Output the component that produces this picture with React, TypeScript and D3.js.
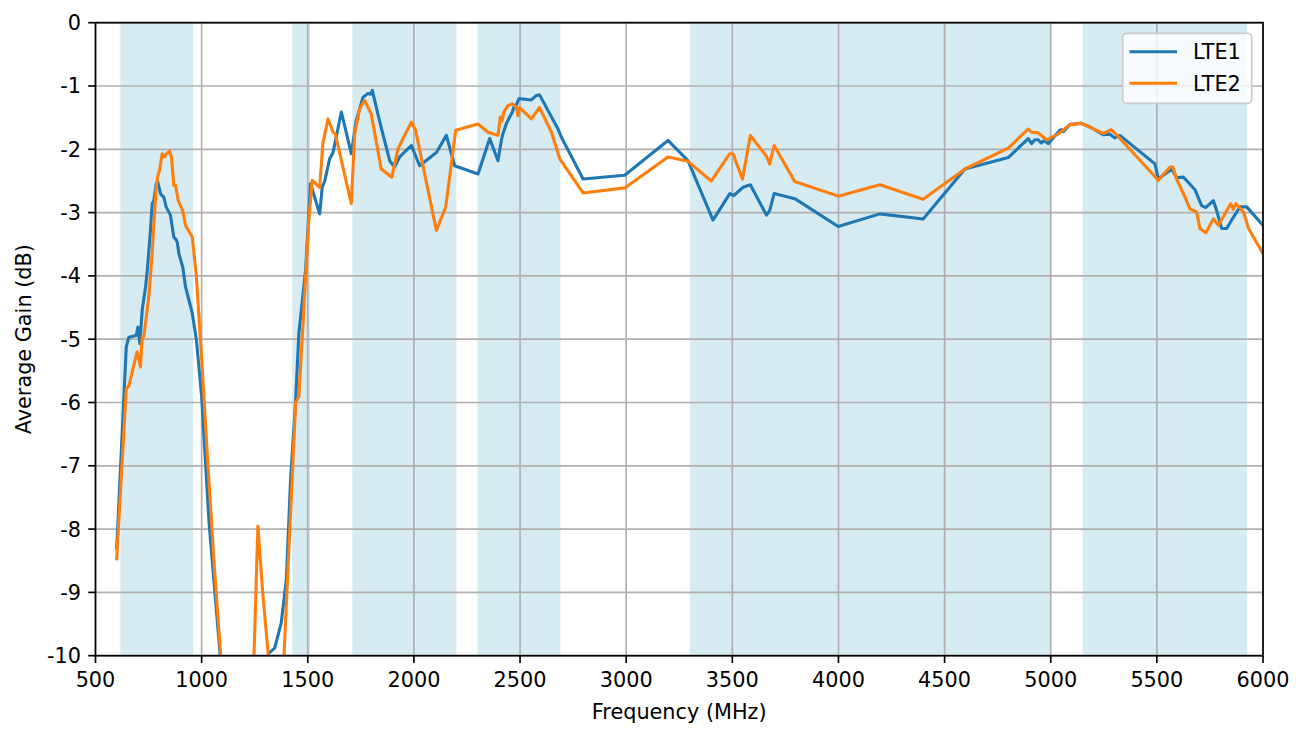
import React from "react";
import * as d3 from "d3";

const lte1Freq = [600, 645, 657, 692, 700, 709, 720, 736, 744, 759, 767, 775, 786, 794, 806, 822, 833, 853, 869, 878, 885, 893, 911, 924, 956, 975, 1000, 1035, 1090, 1150, 1250, 1300, 1317, 1344, 1375, 1399, 1419, 1443, 1458, 1490, 1513, 1556, 1568, 1580, 1603, 1619, 1658, 1705, 1728, 1760, 1783, 1795, 1804, 1838, 1886, 1909, 1933, 1988, 2027, 2106, 2153, 2192, 2302, 2357, 2396, 2412, 2419, 2435, 2451, 2464, 2470, 2480, 2495, 2553, 2577, 2592, 2640, 2679, 2695, 2797, 2993, 3197, 3291, 3409, 3488, 3507, 3551, 3585, 3661, 3676, 3697, 3794, 3999, 4195, 4399, 4596, 4800, 4894, 4910, 4925, 4941, 4955, 4970, 4988, 5043, 5051, 5060, 5090, 5137, 5145, 5192, 5247, 5278, 5302, 5326, 5491, 5507, 5570, 5593, 5625, 5680, 5711, 5730, 5766, 5780, 5805, 5829, 5852, 5892, 5923, 6000];
const lte1Gain = [-8.3, -5.12, -4.97, -4.94, -4.81, -5.07, -4.54, -4.17, -3.91, -3.28, -2.86, -2.81, -2.54, -2.52, -2.7, -2.76, -2.91, -3.04, -3.39, -3.42, -3.47, -3.65, -3.86, -4.17, -4.59, -5.0, -5.9, -7.9, -10.1, -11.5, -11.5, -10.2, -9.96, -9.88, -9.48, -8.8, -7.22, -5.96, -4.91, -3.9, -2.54, -3.02, -2.6, -2.5, -2.15, -2.05, -1.41, -2.07, -1.55, -1.18, -1.12, -1.13, -1.07, -1.55, -2.18, -2.28, -2.12, -1.94, -2.26, -2.05, -1.78, -2.26, -2.39, -1.83, -2.18, -1.86, -1.76, -1.6, -1.49, -1.41, -1.34, -1.32, -1.2, -1.22, -1.15, -1.14, -1.44, -1.68, -1.81, -2.47, -2.41, -1.86, -2.18, -3.12, -2.7, -2.73, -2.6, -2.56, -3.04, -2.97, -2.7, -2.78, -3.22, -3.02, -3.1, -2.31, -2.13, -1.83, -1.91, -1.85, -1.85, -1.9, -1.86, -1.91, -1.7, -1.69, -1.72, -1.61, -1.59, -1.59, -1.66, -1.77, -1.76, -1.82, -1.78, -2.23, -2.47, -2.31, -2.45, -2.44, -2.64, -2.89, -2.92, -2.81, -2.95, -3.25, -3.25, -3.12, -2.91, -2.91, -3.2];

const lte2Freq = [600, 645, 657, 696, 704, 712, 720, 728, 751, 767, 775, 786, 794, 802, 814, 825, 835, 849, 858, 869, 877, 890, 911, 924, 956, 975, 1000, 1030, 1060, 1090, 1150, 1245, 1265, 1290, 1320, 1360, 1388, 1443, 1458, 1505, 1521, 1556, 1571, 1595, 1619, 1630, 1705, 1721, 1744, 1768, 1799, 1846, 1896, 1925, 1988, 2008, 2106, 2150, 2197, 2302, 2349, 2396, 2407, 2415, 2424, 2443, 2464, 2483, 2490, 2498, 2553, 2592, 2648, 2687, 2797, 2993, 3197, 3291, 3401, 3488, 3503, 3548, 3585, 3661, 3676, 3697, 3794, 3999, 4195, 4399, 4596, 4800, 4894, 4910, 4941, 4980, 5035, 5090, 5145, 5192, 5247, 5286, 5310, 5507, 5562, 5575, 5593, 5632, 5656, 5687, 5703, 5731, 5766, 5790, 5848, 5860, 5873, 5908, 5932, 6000];
const lte2Gain = [-8.47, -5.78, -5.74, -5.2, -5.3, -5.44, -4.96, -4.96, -4.33, -3.65, -3.18, -2.6, -2.41, -2.33, -2.07, -2.12, -2.07, -2.03, -2.12, -2.57, -2.57, -2.81, -2.97, -3.2, -3.39, -4.0, -5.3, -7.0, -8.6, -10.0, -11.5, -10.2, -7.95, -9.1, -10.2, -11.0, -10.0, -6.0, -5.91, -3.12, -2.49, -2.6, -1.91, -1.52, -1.73, -1.76, -2.86, -1.76, -1.36, -1.23, -1.44, -2.31, -2.44, -1.99, -1.57, -1.7, -3.28, -2.91, -1.7, -1.6, -1.73, -1.78, -1.49, -1.55, -1.41, -1.31, -1.28, -1.34, -1.47, -1.34, -1.52, -1.34, -1.73, -2.15, -2.69, -2.61, -2.12, -2.19, -2.5, -2.07, -2.07, -2.47, -1.78, -2.11, -2.23, -1.94, -2.51, -2.74, -2.56, -2.79, -2.31, -1.98, -1.68, -1.73, -1.74, -1.85, -1.76, -1.61, -1.59, -1.66, -1.75, -1.69, -1.77, -2.49, -2.28, -2.28, -2.47, -2.75, -2.94, -2.99, -3.25, -3.32, -3.1, -3.2, -2.86, -2.95, -2.86, -2.99, -3.25, -3.65];

const bandStarts = [617, 1427, 1710, 2300, 3300, 5150];
const bandEnds = [960, 1511, 2200, 2690, 5000, 5925];

const xTicks = [500, 1000, 1500, 2000, 2500, 3000, 3500, 4000, 4500, 5000, 5500, 6000];
const yTicks = [0, -1, -2, -3, -4, -5, -6, -7, -8, -9, -10];

const seriesNames = ["LTE1", "LTE2"];
const seriesColors = ["#1f77b4", "#ff7f0e"];

const W = 1303;
const H = 731;
const L = 95.5;
const R = 1263;
const T = 22.7;
const B = 655.7;
const FS = 20.8;
const FONT = "DejaVu Sans, sans-serif";

export default function App() {
  const x = d3.scaleLinear().domain([500, 6000]).range([L, R]);
  const y = d3.scaleLinear().domain([-10, 0]).range([B, T]);
  const line = d3
    .line<[number, number]>()
    .x((d) => x(d[0]))
    .y((d) => y(d[1]));
  const series = [
    lte1Freq.map((f, i) => [f, lte1Gain[i]] as [number, number]),
    lte2Freq.map((f, i) => [f, lte2Gain[i]] as [number, number]),
  ];
  const fmt = (v: number) => String(v).replace("\u2212", "-");

  return (
    <svg
      width={W}
      height={H}
      style={{ position: "fixed", left: 0, top: 0, background: "#fff" }}
      fontFamily={FONT}
    >
      <defs>
        <clipPath id="plotclip">
          <rect x={L} y={T} width={R - L} height={B - T} />
        </clipPath>
      </defs>
      {bandStarts.map((s, i) => (
        <rect
          key={"b" + i}
          x={x(s)}
          y={T}
          width={x(bandEnds[i]) - x(s)}
          height={B - T}
          fill="#add8e6"
          fillOpacity={0.5}
        />
      ))}
      {xTicks.map((t) => (
        <line key={"gx" + t} x1={x(t)} x2={x(t)} y1={T} y2={B} stroke="#b0b0b0" strokeWidth={1.67} />
      ))}
      {yTicks.map((t) => (
        <line key={"gy" + t} x1={L} x2={R} y1={y(t)} y2={y(t)} stroke="#b0b0b0" strokeWidth={1.67} />
      ))}
      <g clipPath="url(#plotclip)">
        {series.map((s, i) => (
          <path
            key={"s" + i}
            d={line(s) || ""}
            fill="none"
            stroke={seriesColors[i]}
            strokeWidth={3.1}
            strokeLinejoin="round"
            strokeLinecap="square"
          />
        ))}
      </g>
      <rect x={L} y={T} width={R - L} height={B - T} fill="none" stroke="#000" strokeWidth={1.67} />
      {xTicks.map((t) => (
        <g key={"tx" + t}>
          <line x1={x(t)} x2={x(t)} y1={B} y2={B + 7.3} stroke="#000" strokeWidth={1.67} />
          <text x={x(t)} y={B + 31.5} textAnchor="middle" fontSize={FS} fill="#000">
            {fmt(t)}
          </text>
        </g>
      ))}
      {yTicks.map((t) => (
        <g key={"ty" + t}>
          <line x1={L - 7.3} x2={L} y1={y(t)} y2={y(t)} stroke="#000" strokeWidth={1.67} />
          <text x={L - 14.6} y={y(t)} dy="0.36em" textAnchor="end" fontSize={FS} fill="#000">
            {fmt(t)}
          </text>
        </g>
      ))}
      <text x={(L + R) / 2} y={719} textAnchor="middle" fontSize={FS} fill="#000">
        Frequency (MHz)
      </text>
      <text
        transform={`translate(31,${(T + B) / 2}) rotate(-90)`}
        textAnchor="middle"
        fontSize={FS}
        fill="#000"
      >
        Average Gain (dB)
      </text>
      <g>
        <rect
          x={1122.7}
          y={33.3}
          width={129}
          height={70}
          rx={4}
          fill="#fff"
          fillOpacity={0.8}
          stroke="#cccccc"
          strokeWidth={1.67}
        />
        {seriesNames.map((n, i) => (
          <g key={"lg" + n}>
            <line
              x1={1129.5}
              x2={1177}
              y1={51.7 + i * 31.6}
              y2={51.7 + i * 31.6}
              stroke={seriesColors[i]}
              strokeWidth={3.1}
            />
            <text x={1193} y={51.7 + i * 31.6} dy="0.36em" fontSize={FS} fill="#000">
              {n}
            </text>
          </g>
        ))}
      </g>
    </svg>
  );
}
